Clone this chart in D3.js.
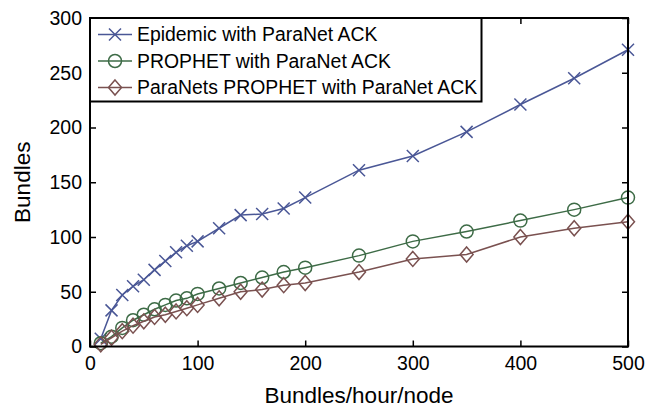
<!DOCTYPE html>
<html><head><meta charset="utf-8">
<script src="https://cdn.jsdelivr.net/npm/d3@7"></script>
<style>body{margin:0;background:#fff}svg{display:block}text{font-family:Arial,"Liberation Sans",sans-serif}</style>
</head><body>
<svg id="c" width="646" height="407"></svg>
<script>
const xValues = [10,20,30,40,50,60,70,80,90,100,120,140,160,180,200,250,300,350,400,450,500];
const epidemic = [7,33,47,55,61,70,78,86,92,96,108,120,121,126,136,161,174,196,221,245,271];
const prophet = [3,9,17,24,29,34,38,42,44,48,53,58,63,68,72,83,96,105,115,125,136];
const paranets = [2,8,14,19,23,27,29,32,35,38,44,50,52,56,58,68,80,84,100,108,114];
const seriesNames = ["Epidemic with ParaNet ACK","PROPHET with ParaNet ACK","ParaNets PROPHET with ParaNet ACK"];
const xTicks = [0,100,200,300,400,500];
const yTicks = [0,50,100,150,200,250,300];

const colors = ["#4a5796","#3d6b46","#7a5150"];
const markers = ["x","o","d"];
const seriesData = [epidemic, prophet, paranets];

const svg = d3.select("#c");
const L=90, R=628, T=18, B=346.5;
const x = d3.scaleLinear().domain([0,500]).range([L,R]);
const y = d3.scaleLinear().domain([0,300]).range([B,T]);

function drawMarker(g, type, cx, cy, color){
  if(type==="x"){
    const s=6;
    g.append("path").attr("d",`M${cx-s},${cy-s}L${cx+s},${cy+s}M${cx-s},${cy+s}L${cx+s},${cy-s}`)
     .attr("stroke",color).attr("stroke-width",1.5).attr("fill","none");
  } else if(type==="o"){
    g.append("circle").attr("cx",cx).attr("cy",cy).attr("r",6.5)
     .attr("stroke",color).attr("stroke-width",1.5).attr("fill","none");
  } else {
    const w=6.5,h=7.5;
    g.append("path").attr("d",`M${cx},${cy-h}L${cx+w},${cy}L${cx},${cy+h}L${cx-w},${cy}Z`)
     .attr("stroke",color).attr("stroke-width",1.5).attr("fill","none");
  }
}

// series
seriesData.forEach((vals,i)=>{
  const g = svg.append("g");
  const line = d3.line().x((d,j)=>x(xValues[j])).y(d=>y(d));
  g.append("path").datum(vals).attr("d",line).attr("fill","none")
   .attr("stroke",colors[i]).attr("stroke-width",1.5);
  vals.forEach((v,j)=>drawMarker(g, markers[i], x(xValues[j]), y(v), colors[i]));
});

// axes (box with inward ticks)
const axG = svg.append("g");
const tl = 6;
axG.append("g").attr("transform",`translate(0,${B})`)
  .call(d3.axisBottom(x).tickValues(xTicks).tickSize(-tl).tickPadding(10).tickFormat(d3.format("d")))
  .call(g=>{g.select(".domain").remove();g.selectAll("line").attr("stroke","#000").attr("stroke-width",1.5);
    g.selectAll("text").attr("font-size",19.5).attr("fill","#000");});
axG.append("g").attr("transform",`translate(0,${T})`)
  .call(d3.axisTop(x).tickValues(xTicks).tickSize(-tl).tickFormat(""))
  .call(g=>{g.select(".domain").remove();g.selectAll("line").attr("stroke","#000").attr("stroke-width",1.5);});
axG.append("g").attr("transform",`translate(${L},0)`)
  .call(d3.axisLeft(y).tickValues(yTicks).tickSize(-tl).tickPadding(8).tickFormat(d3.format("d")))
  .call(g=>{g.select(".domain").remove();g.selectAll("line").attr("stroke","#000").attr("stroke-width",1.5);
    g.selectAll("text").attr("font-size",19.5).attr("fill","#000");});
axG.append("g").attr("transform",`translate(${R},0)`)
  .call(d3.axisRight(y).tickValues(yTicks).tickSize(-tl).tickFormat(""))
  .call(g=>{g.select(".domain").remove();g.selectAll("line").attr("stroke","#000").attr("stroke-width",1.5);});
axG.append("rect").attr("x",L).attr("y",T).attr("width",R-L).attr("height",B-T)
  .attr("fill","none").attr("stroke","#000").attr("stroke-width",2);

// axis titles
svg.append("text").attr("x",(L+R)/2).attr("y",403).attr("text-anchor","middle")
  .attr("font-size",22.5).text("Bundles/hour/node");
svg.append("text").attr("transform",`translate(30,${(T+B)/2}) rotate(-90)`).attr("text-anchor","middle")
  .attr("font-size",22.5).text("Bundles");

// legend
const lg = svg.append("g");
lg.append("rect").attr("x",L).attr("y",T).attr("width",481.5-L).attr("height",101.5-T)
  .attr("fill","#fff").attr("stroke","#000").attr("stroke-width",2);
const rowY=[34.5,61,87.5];
seriesNames.forEach((n,i)=>{
  lg.append("line").attr("x1",98).attr("x2",132).attr("y1",rowY[i]).attr("y2",rowY[i])
    .attr("stroke",colors[i]).attr("stroke-width",1.5);
  drawMarker(lg, markers[i], 115, rowY[i], colors[i]);
  lg.append("text").attr("x",137).attr("y",rowY[i]).attr("dy","0.35em").attr("font-size",19.4).text(n);
});
</script>
</body></html>
